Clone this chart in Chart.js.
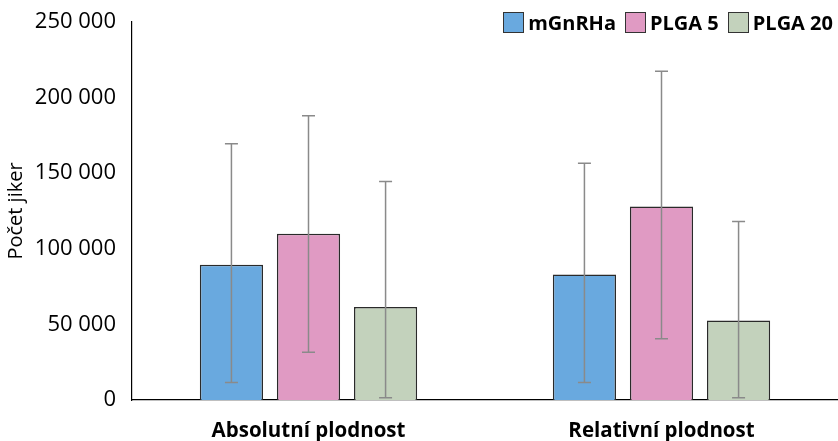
<!DOCTYPE html>
<html lang="cs">
<head>
    <meta charset="UTF-8">
    <title>Počet jiker</title>
    <script src="https://cdn.jsdelivr.net/npm/chart.js"></script>
    <style>
        html, body { margin: 0; padding: 0; background: #fff; }
        #wrap { position: relative; width: 838px; height: 441px; }
        #legend {
            position: absolute; top: 9px; right: 5px;
            display: flex; align-items: center;
            font-family: "Open Sans", sans-serif; font-weight: bold; font-size: 20px; color: #000;
        }
        #legend .item { display: flex; align-items: center; margin-left: 9px; }
        #legend .box { width: 19px; height: 19px; border: 1.5px solid #333; margin-right: 4px; }
    </style>
</head>
<body>
<div id="wrap">
    <canvas id="chart" width="838" height="441"></canvas>
    <div id="legend"></div>
</div>
<script>
    // data
    const categories = ['Absolutní plodnost', 'Relativní plodnost'];
    const seriesNames = ['mGnRHa', 'PLGA 5', 'PLGA 20'];
    const meanValues = [
        [89500, 83000],
        [110000, 128000],
        [61500, 52500]
    ];
    const errLow = [
        [11500, 11500],
        [31500, 40500],
        [1500, 1500]
    ];
    const errHigh = [
        [169500, 156500],
        [188000, 217500],
        [144500, 118000]
    ];
    const yTicks = [0, 50000, 100000, 150000, 200000, 250000];

    const colors = ['#69a9df', '#e09ac3', '#c3d2bc'];

    const fmt = v => String(v).replace(/\B(?=(\d{3})+(?!\d))/g, ' ');

    // draws the error bars through the y scale
    const errorBars = {
        id: 'errorBars',
        afterDatasetsDraw(chart) {
            const ctx = chart.ctx;
            const y = chart.scales.y;
            ctx.save();
            ctx.strokeStyle = '#8a8a8a';
            ctx.lineWidth = 1.5;
            chart.data.datasets.forEach((ds, i) => {
                chart.getDatasetMeta(i).data.forEach((bar, j) => {
                    const x = bar.x;
                    const lo = y.getPixelForValue(errLow[i][j]);
                    const hi = y.getPixelForValue(errHigh[i][j]);
                    ctx.beginPath();
                    ctx.moveTo(x, lo); ctx.lineTo(x, hi);
                    ctx.moveTo(x - 6.5, lo); ctx.lineTo(x + 6.5, lo);
                    ctx.moveTo(x - 6.5, hi); ctx.lineTo(x + 6.5, hi);
                    ctx.stroke();
                });
            });
            ctx.restore();
        }
    };

    const chart = new Chart(document.getElementById('chart'), {
        type: 'bar',
        data: {
            labels: categories,
            datasets: seriesNames.map((name, i) => ({
                label: name,
                data: meanValues[i],
                backgroundColor: colors[i],
                borderColor: '#2a2a2a',
                borderWidth: 1.5,
                barPercentage: 0.82,
                categoryPercentage: 0.655
            }))
        },
        options: {
            responsive: false,
            animation: false,
            layout: { padding: { top: 0, left: 0, right: -10, bottom: 0 } },
            plugins: { legend: { display: false }, tooltip: { enabled: false } },
            scales: {
                x: {
                    grid: { display: false },
                    border: { color: '#000', width: 1.2 },
                    ticks: { color: '#000', padding: 11, font: { family: 'Open Sans', size: 20.5, weight: 'bold' } },
                    afterFit(scale) { scale.height = 41; }
                },
                y: {
                    min: 0,
                    max: 250000,
                    afterBuildTicks(scale) { scale.ticks = yTicks.map(v => ({ value: v })); },
                    grid: { display: false },
                    border: { color: '#000', width: 1.2 },
                    ticks: {
                        color: '#000', padding: 8,
                        font: { family: 'Open Sans', size: 22 },
                        callback: v => fmt(v)
                    },
                    title: {
                        display: true, text: 'Počet jiker', color: '#000',
                        font: { family: 'Open Sans', size: 20 }, padding: { top: 4, bottom: 0 }
                    },
                    afterFit(scale) {
                        scale.width = 132;
                        scale.paddingTop = 22;
                    }
                }
            }
        },
        plugins: [errorBars]
    });

    // legend as html, built from the datasets
    document.getElementById('legend').innerHTML = chart.data.datasets.map(ds =>
        `<span class="item"><span class="box" style="background:${ds.backgroundColor}"></span>${ds.label}</span>`
    ).join('');
</script>
</body>
</html>
